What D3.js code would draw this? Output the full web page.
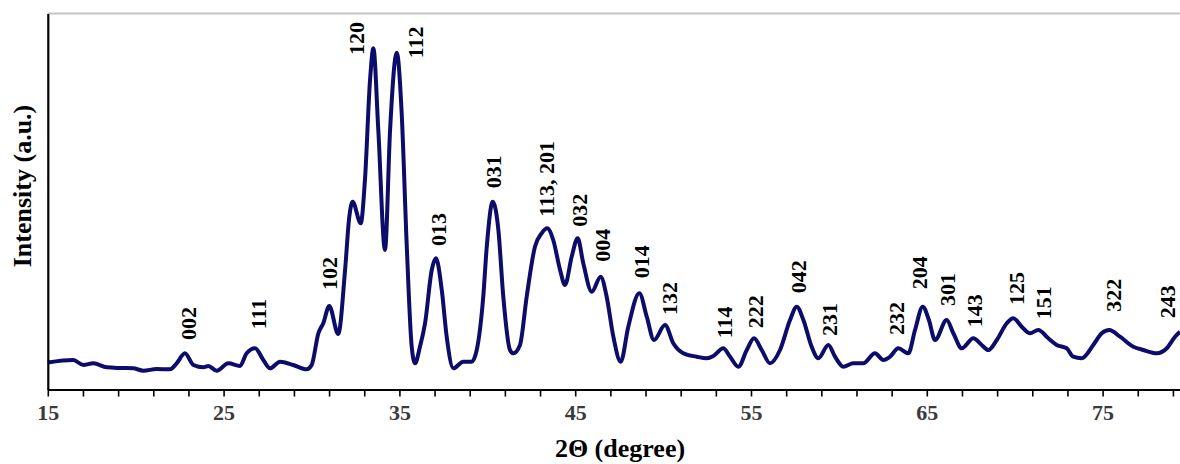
<!DOCTYPE html>
<html>
<head>
<meta charset="utf-8">
<script src="https://cdn.jsdelivr.net/npm/d3@7"></script>
<style>
  html, body { margin: 0; padding: 0; background: #fff; }
  svg { display: block; }
  text { font-family: "Liberation Serif", "Times New Roman", serif; font-weight: bold; }
</style>
</head>
<body>
<script>
// 2θ (degree) values of the trace
const twoTheta = [15.0,16.45,17.02,17.59,18.35,19.11,19.86,20.43,21.19,21.95,22.33,22.80,23.28,23.85,24.13,24.61,25.27,25.93,26.31,26.79,27.26,27.64,28.21,28.96,29.73,30.01,30.39,30.67,31.01,31.52,31.91,32.15,32.34,32.80,33.04,33.33,33.52,33.80,34.18,34.47,34.85,35.13,35.42,35.70,35.89,36.17,36.46,36.84,37.08,37.41,37.69,38.07,38.63,39.11,39.40,39.77,39.97,40.31,40.63,40.91,41.29,41.48,41.86,42.24,42.71,43.09,43.41,43.75,44.14,44.42,44.80,45.14,45.46,45.94,46.45,46.79,47.17,47.59,48.02,48.65,49.07,49.48,50.11,50.58,51.15,51.91,52.48,52.86,53.42,53.81,54.28,54.76,55.17,55.61,56.08,56.65,57.22,57.60,57.98,58.45,58.83,59.40,59.78,60.25,60.82,61.39,62.05,62.53,62.91,63.38,63.95,64.33,64.77,65.12,65.47,66.13,66.51,66.99,67.65,68.12,68.50,68.98,69.55,69.92,70.40,70.87,71.34,71.91,72.39,72.96,73.33,73.81,74.47,74.95,75.38,75.99,76.75,77.32,78.08,78.65,79.12,79.40];
// Intensity (a.u.) at each 2θ
const intensity = [7.2,7.85,6.52,6.97,5.90,5.72,5.64,5.00,5.45,5.37,6.97,9.63,6.52,5.90,6.25,5.00,6.97,6.25,9.63,10.96,7.85,5.64,7.39,6.52,5.37,6.52,14.95,17.61,22.21,14.76,31.78,45.96,49.95,44.20,55.72,82.31,90.74,69.02,37.10,69.02,89.57,73.46,37.98,11.38,6.97,11.38,17.61,31.78,34.89,26.46,14.04,5.64,7.39,7.39,10.51,24.68,37.98,49.95,42.42,24.68,10.51,9.63,11.84,24.68,37.98,41.54,42.87,39.76,31.78,27.79,35.32,40.21,33.56,26.01,30.00,24.68,14.04,7.39,16.70,25.59,19.36,13.16,17.15,12.29,9.63,8.72,8.30,8.91,10.96,8.72,6.06,10.51,13.62,10.51,6.97,10.51,18.48,22.02,18.48,11.38,8.30,11.84,8.72,6.06,6.97,6.97,9.63,7.85,8.72,10.96,9.63,15.82,22.02,18.48,13.16,18.48,14.95,10.96,13.62,11.84,10.51,13.16,17.61,18.94,16.70,14.95,15.82,13.62,11.84,10.96,8.72,8.30,11.84,14.95,15.82,14.04,11.38,10.51,9.63,10.96,14.04,15.37];

// Peak (hkl) labels, their 2θ position and the intensity at the label's base
const peakLabels = ["002","111","102","120","112","013","031","113, 201","032","004","014","132","114","222","042","231","232","204","301","143","125","151","322","243"];
const peakLabelTheta = [22.99,26.97,31.01,32.57,35.89,37.21,40.34,43.38,45.27,46.56,48.78,50.39,53.52,55.28,57.69,59.45,63.29,64.61,66.17,67.74,70.11,71.63,75.61,78.70];
const peakLabelBase = [13.16,16.01,26.46,88.96,88.09,38.16,53.51,45.96,43.30,33.99,29.57,19.81,13.62,16.28,25.59,14.23,14.49,26.65,22.21,16.54,22.47,18.67,20.69,18.94];

// Axis ticks
const xTicks = d3.range(15, 81, 2);
const xTickLabels = [15, 25, 35, 45, 55, 65, 75];
const xTitle = "2\u0398 (degree)";
const yTitle = "Intensity (a.u.)";

const W = 1180, H = 464;
const mLeft = 47.8, mTop = 13.5, mBottom = 389.5;

const x = d3.scaleLinear().domain([15, 80]).range([mLeft, mLeft + 65 * 17.58]);
const y = d3.scaleLinear().domain([0, 100]).range([mBottom, mTop]);

const svg = d3.select("body").append("svg").attr("width", W).attr("height", H);

// top border (gray)
svg.append("line")
  .attr("x1", mLeft).attr("x2", W).attr("y1", mTop).attr("y2", mTop)
  .attr("stroke", "#c4c4c4").attr("stroke-width", 2);

// trace
const pts = twoTheta.map((t, i) => [t, intensity[i]]);
const line = d3.line().x(d => x(d[0])).y(d => y(d[1])).curve(d3.curveMonotoneX);
svg.append("path").datum(pts)
  .attr("d", line)
  .attr("fill", "none")
  .attr("stroke", "#0c0c6a")
  .attr("stroke-width", 4)
  .attr("stroke-linejoin", "round");

// bottom axis
const xAxis = d3.axisBottom(x)
  .tickValues(xTicks)
  .tickSize(7)
  .tickSizeOuter(0)
  .tickFormat(d => xTickLabels.includes(d) ? d : "");
const gx = svg.append("g").attr("transform", `translate(0,${mBottom})`).call(xAxis);
gx.select(".domain").attr("stroke", "#000").attr("stroke-width", 2.2);
gx.selectAll(".tick line").attr("stroke", "#000").attr("stroke-width", 1.6);
gx.selectAll(".tick text")
  .attr("y", 30).attr("dy", 0)
  .attr("fill", "#3a3a3a")
  .style("font-size", "22px")
  .style("font-family", "'Liberation Serif', serif")
  .style("font-weight", "bold");

// left axis
const yAxis = d3.axisLeft(y).tickValues([]).tickSizeOuter(0);
const gy = svg.append("g").attr("transform", `translate(${mLeft},0)`).call(yAxis);
gy.select(".domain").attr("stroke", "#000").attr("stroke-width", 2.2);

// peak labels
svg.append("g").selectAll("text")
  .data(peakLabels)
  .join("text")
  .attr("transform", (d, i) => `translate(${x(peakLabelTheta[i])},${y(peakLabelBase[i])}) rotate(-90)`)
  .attr("dy", "0.34em")
  .attr("text-anchor", "start")
  .attr("fill", "#000")
  .style("font-size", "22px")
  .text(d => d);

// axis titles
svg.append("text")
  .attr("x", 620).attr("y", 457)
  .attr("text-anchor", "middle")
  .attr("fill", "#000")
  .style("font-size", "26px")
  .text(xTitle);

svg.append("text")
  .attr("transform", `translate(31,186) rotate(-90)`)
  .attr("text-anchor", "middle")
  .attr("fill", "#000")
  .style("font-size", "26px")
  .text(yTitle);
</script>
</body>
</html>
